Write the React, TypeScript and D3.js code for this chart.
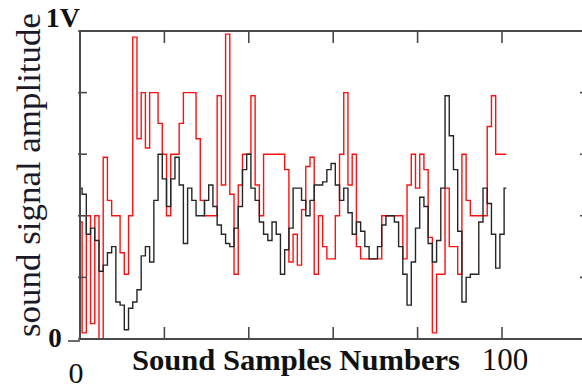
import React from "react";
import * as d3 from "d3";

const redValues = [
  0.38, 0.02, 0.40, 0.05, 0.40, 0.00, 0.59, 0.45, 0.40, 0.40,
  0.28, 0.21, 0.40, 0.98, 0.65, 0.80, 0.62, 0.80, 0.80, 0.70,
  0.60, 0.40, 0.60, 0.60, 0.70, 0.80, 0.80, 0.80, 0.65, 0.45,
  0.40, 0.40, 0.40, 0.79, 0.50, 0.99, 0.47, 0.21, 0.50, 0.60,
  0.60, 0.79, 0.50, 0.40, 0.60, 0.60, 0.60, 0.60, 0.60, 0.55,
  0.25, 0.34, 0.24, 0.42, 0.56, 0.59, 0.21, 0.40, 0.30, 0.26,
  0.26, 0.40, 0.60, 0.80, 0.50, 0.60, 0.30, 0.26, 0.26, 0.26,
  0.26, 0.26, 0.40, 0.40, 0.40, 0.40, 0.40, 0.26, 0.50, 0.60,
  0.49, 0.60, 0.55, 0.33, 0.02, 0.21, 0.21, 0.49, 0.30, 0.30,
  0.21, 0.60, 0.45, 0.40, 0.40, 0.40, 0.40, 0.69, 0.79, 0.60,
  0.60, 0.60,
];

const blackValues = [
  0.49, 0.47, 0.34, 0.36, 0.32, 0.22, 0.24, 0.28, 0.30, 0.12,
  0.11, 0.03, 0.10, 0.12, 0.16, 0.27, 0.30, 0.25, 0.45, 0.60,
  0.52, 0.43, 0.52, 0.59, 0.50, 0.31, 0.49, 0.45, 0.40, 0.40,
  0.45, 0.50, 0.43, 0.37, 0.34, 0.31, 0.30, 0.36, 0.43, 0.55,
  0.60, 0.49, 0.45, 0.38, 0.34, 0.32, 0.38, 0.34, 0.21, 0.29,
  0.36, 0.49, 0.49, 0.45, 0.40, 0.45, 0.50, 0.50, 0.51, 0.55,
  0.57, 0.50, 0.45, 0.49, 0.41, 0.34, 0.38, 0.35, 0.30, 0.26,
  0.26, 0.30, 0.37, 0.40, 0.40, 0.38, 0.30, 0.21, 0.11, 0.25,
  0.36, 0.46, 0.43, 0.31, 0.25, 0.32, 0.49, 0.79, 0.66, 0.55,
  0.35, 0.12, 0.20, 0.21, 0.21, 0.38, 0.49, 0.44, 0.34, 0.23,
  0.34, 0.49,
];

const xTicks = [0, 20, 40, 60, 80, 100, 120];
const yTicks = [0, 0.2, 0.4, 0.6, 0.8, 1];
const xTickLabels = ["0", "100"];
const yTopLabel = "1V";
const yBottomLabel = "0";
const xTitle = "Sound Samples Numbers";
const yTitle = "sound signal amplitude";

const W = 582;
const H = 390;
const L = 80;
const R = 587;
const T = 31;
const B = 339;

export default function App() {
  const x = d3.scaleLinear().domain([0, 100]).range([L, 502]);
  const y = d3.scaleLinear().domain([0, 1]).range([B, T]);

  const line = d3
    .line<number>()
    .x((_, i) => x(i))
    .y((d) => y(d))
    .curve(d3.curveStep);

  const serif = "'Liberation Serif', 'Times New Roman', serif";
  const axisColor = "#4a4a4a";

  return (
    <svg
      width={W}
      height={H}
      style={{ position: "absolute", left: 0, top: 0, background: "#fff" }}
    >
      <rect x={0} y={0} width={W} height={H} fill="#fff" />
      {/* data */}
      <path d={line(redValues) || ""} fill="none" stroke="#ff1010" strokeWidth={1.4} />
      <path d={line(blackValues) || ""} fill="none" stroke="#262626" strokeWidth={1.4} />

      {/* frame */}
      <g stroke={axisColor} strokeWidth={2} fill="none">
        <line x1={L} y1={T} x2={R} y2={T} />
        <line x1={L} y1={B} x2={R} y2={B} />
        <line x1={L} y1={T} x2={L} y2={B} />
        <line x1={R} y1={T} x2={R} y2={B} />
      </g>
      {/* x ticks (inward) */}
      <g stroke={axisColor} strokeWidth={1.6}>
        {xTicks.filter((t) => t > 0).map((t) => (
          <g key={"xt" + t}>
            <line x1={x(t)} x2={x(t)} y1={T} y2={T + 12} />
            <line x1={x(t)} x2={x(t)} y1={B} y2={B - 12} />
          </g>
        ))}
      </g>
      {/* y ticks (inward) */}
      <g stroke={axisColor} strokeWidth={1.6}>
        {yTicks.map((t) => (
          <g key={"yt" + t}>
            <line x1={L - 2} x2={L + 7} y1={y(t)} y2={y(t)} />
            <line x1={R} x2={R - 7} y1={y(t)} y2={y(t)} />
          </g>
        ))}
        <line x1={L - 12} x2={L} y1={y(0) + 2} y2={y(0) + 2} />
      </g>

      {/* y end labels */}
      <text
        x={L}
        y={27}
        textAnchor="end"
        fontFamily={serif}
        fontWeight="bold"
        fontSize={28}
        fill="#111"
      >
        {yTopLabel}
      </text>
      <text
        x={55}
        y={347}
        textAnchor="middle"
        fontFamily={serif}
        fontWeight="bold"
        fontSize={27}
        fill="#111"
      >
        {yBottomLabel}
      </text>

      {/* x labels */}
      <text x={76} y={383} textAnchor="middle" fontFamily={serif} fontSize={30} fill="#111">
        {xTickLabels[0]}
      </text>
      <text x={x(100) + 3} y={370} textAnchor="middle" fontFamily={serif} fontSize={31} fill="#111">
        {xTickLabels[1]}
      </text>

      {/* titles */}
      <text
        x={296}
        y={370}
        textAnchor="middle"
        fontFamily={serif}
        fontWeight="bold"
        fontSize={30}
        textLength={328}
        lengthAdjust="spacingAndGlyphs"
        fill="#111"
      >
        {xTitle}
      </text>
      <text
        transform="translate(40,175) rotate(-90)"
        textAnchor="middle"
        fontFamily={serif}
        fontSize={34}
        textLength={324}
        lengthAdjust="spacingAndGlyphs"
        fill="#1a1a2a"
      >
        {yTitle}
      </text>
    </svg>
  );
}
